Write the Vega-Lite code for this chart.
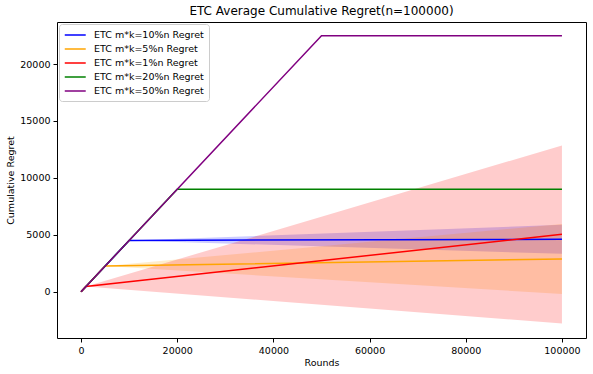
{
  "$schema": "https://vega.github.io/schema/vega-lite/v6.json",
  "width": 529,
  "height": 316,
  "autosize": {"type": "none"},
  "padding": {"left": 57, "top": 22, "right": 7, "bottom": 36},
  "background": "white",
  "title": {"text": "ETC Average Cumulative Regret(n=100000)", "font": "DejaVu Sans", "fontSize": 12, "fontWeight": "normal", "color": "black", "offset": 4},
  "config": {
    "view": {"stroke": "black", "strokeWidth": 1},
    "font": "DejaVu Sans",
    "axis": {"grid": false, "domain": false, "tickColor": "black", "tickSize": 4, "labelColor": "black", "labelFontSize": 9.5, "titleFontSize": 9.5, "titleFontWeight": "normal", "titleColor": "black", "labelFont": "DejaVu Sans", "titleFont": "DejaVu Sans", "labelPadding": 3}
  },
  "data": {"values": [
    {"series": "ETC m*k=10%n Regret", "x": 0, "mean": 0, "lo": 0, "hi": 0},
    {"series": "ETC m*k=10%n Regret", "x": 10000, "mean": 4500, "lo": 4500, "hi": 4500},
    {"series": "ETC m*k=10%n Regret", "x": 100000, "mean": 4610, "lo": 3330, "hi": 5880},
    {"series": "ETC m*k=5%n Regret", "x": 0, "mean": 0, "lo": 0, "hi": 0},
    {"series": "ETC m*k=5%n Regret", "x": 5000, "mean": 2250, "lo": 2250, "hi": 2250},
    {"series": "ETC m*k=5%n Regret", "x": 100000, "mean": 2870, "lo": -200, "hi": 5940},
    {"series": "ETC m*k=1%n Regret", "x": 0, "mean": 0, "lo": 0, "hi": 0},
    {"series": "ETC m*k=1%n Regret", "x": 1000, "mean": 450, "lo": 450, "hi": 450},
    {"series": "ETC m*k=1%n Regret", "x": 100000, "mean": 5050, "lo": -2790, "hi": 12850},
    {"series": "ETC m*k=20%n Regret", "x": 0, "mean": 0, "lo": 0, "hi": 0},
    {"series": "ETC m*k=20%n Regret", "x": 20000, "mean": 9000, "lo": 9000, "hi": 9000},
    {"series": "ETC m*k=20%n Regret", "x": 100000, "mean": 9000, "lo": 9000, "hi": 9000},
    {"series": "ETC m*k=50%n Regret", "x": 0, "mean": 0, "lo": 0, "hi": 0},
    {"series": "ETC m*k=50%n Regret", "x": 50000, "mean": 22500, "lo": 22500, "hi": 22500},
    {"series": "ETC m*k=50%n Regret", "x": 100000, "mean": 22500, "lo": 22500, "hi": 22500}
  ]},
  "encoding": {
    "x": {"field": "x", "type": "quantitative", "title": "Rounds", "scale": {"domain": [-5000, 105000], "nice": false, "zero": false}, "axis": {"values": [0, 20000, 40000, 60000, 80000, 100000], "format": "d", "labelFlush": false, "titlePadding": 3}},
    "color": {"field": "series", "type": "nominal", "sort": null,
      "scale": {"domain": ["ETC m*k=10%n Regret", "ETC m*k=5%n Regret", "ETC m*k=1%n Regret", "ETC m*k=20%n Regret", "ETC m*k=50%n Regret"], "range": ["#0000ff", "#ffa500", "#ff0000", "#008000", "#800080"]},
      "legend": {"title": null, "orient": "top-left", "offset": 2, "symbolType": "M-1,0H3", "symbolSize": 110, "symbolStrokeWidth": 1.5, "labelFontSize": 9.5, "labelColor": "black", "labelFont": "DejaVu Sans", "rowPadding": 3, "padding": 5, "strokeColor": "#cccccc", "fillColor": "white", "cornerRadius": 3, "labelOffset": 18, "symbolOpacity": 1}}
  },
  "layer": [
    {
      "mark": {"type": "area", "opacity": 0.2},
      "encoding": {
        "y": {"field": "lo", "type": "quantitative", "title": "Cumulative Regret", "scale": {"domain": [-4070, 23700], "nice": false, "zero": false}, "axis": {"values": [0, 5000, 10000, 15000, 20000], "format": "d", "labelFlush": false, "titlePadding": 4}},
        "y2": {"field": "hi"}
      }
    },
    {
      "mark": {"type": "line", "strokeWidth": 1.5},
      "encoding": {
        "y": {"field": "mean", "type": "quantitative"}
      }
    }
  ]
}
